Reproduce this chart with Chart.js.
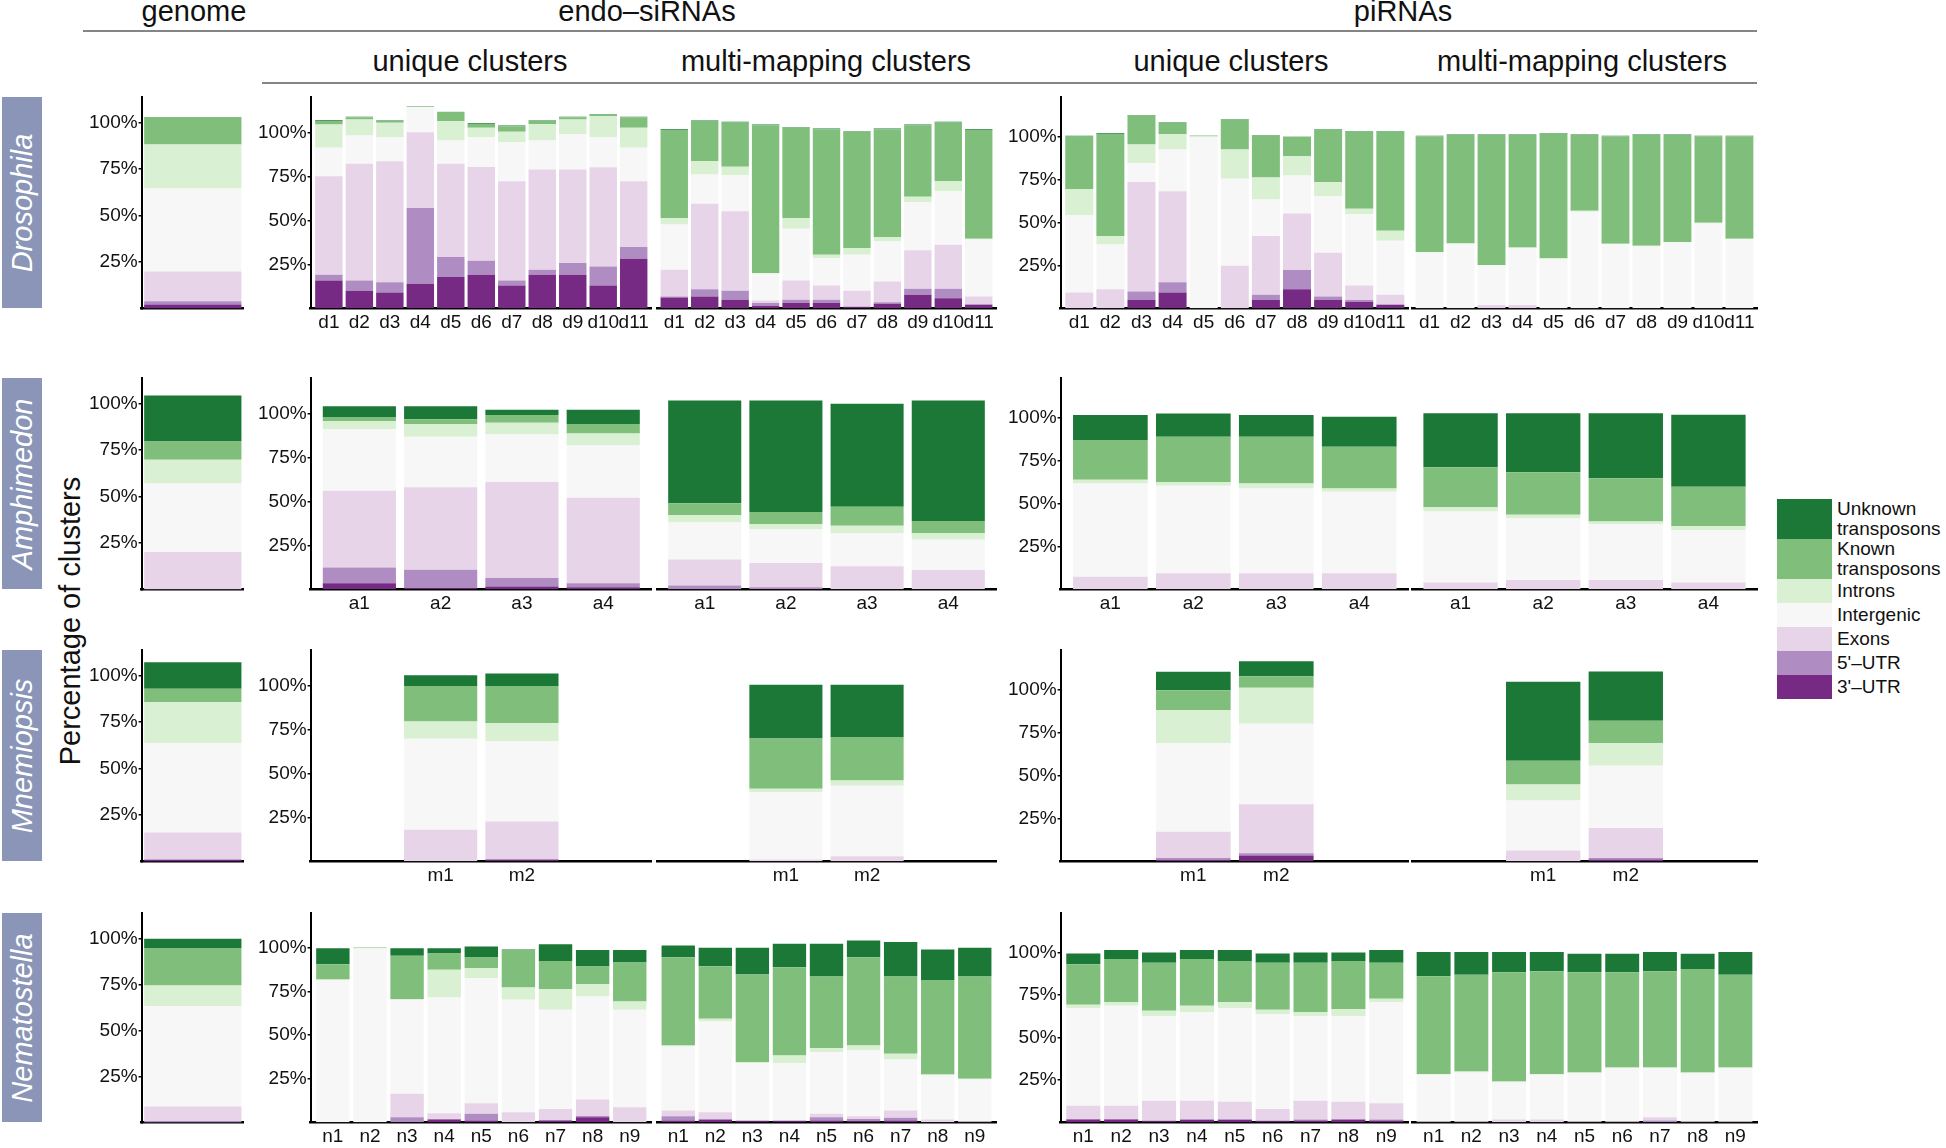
<!DOCTYPE html>
<html><head><meta charset="utf-8">
<script src="https://cdn.jsdelivr.net/npm/chart.js@4.4.0/dist/chart.umd.min.js"></script>
<style>
html,body{margin:0;padding:0;background:#fff;}
body{width:1946px;height:1148px;position:relative;overflow:hidden;font-family:'Liberation Sans',Arial,Helvetica,sans-serif;color:#111;}
canvas{position:absolute;}
.t{position:absolute;white-space:nowrap;transform:translateX(-50%);font-size:29px;line-height:29px;color:#111;}
.hr{position:absolute;height:2px;background:#858585;}
.sp{position:absolute;background:#8a95b8;}
.sp span{position:absolute;left:50%;top:50%;transform:translate(-50%,-50%) rotate(-90deg);color:#fff;font-style:italic;font-size:29px;white-space:nowrap;}
#ytitle{position:absolute;left:70px;top:621px;transform:translate(-50%,-50%) rotate(-90deg);font-size:29px;white-space:nowrap;}
#legend{position:absolute;left:1777px;top:499px;}
.li{display:flex;align-items:stretch;min-height:24px;}
.lb{width:55px;flex:none;}
.lt{width:112px;padding-left:5px;font-size:19px;line-height:20px;display:flex;align-items:center;}
</style></head><body>
<div class="t" style="left:194px;top:-3px">genome</div>
<div class="t" style="left:647px;top:-3px">endo–siRNAs</div>
<div class="t" style="left:1403px;top:-3px">piRNAs</div>
<div class="hr" style="left:83px;top:30px;width:1674px"></div>
<div class="t" style="left:470px;top:47px">unique clusters</div>
<div class="t" style="left:826px;top:47px">multi-mapping clusters</div>
<div class="t" style="left:1231px;top:47px">unique clusters</div>
<div class="t" style="left:1582px;top:47px">multi-mapping clusters</div>
<div class="hr" style="left:262px;top:82px;width:1495px"></div>
<div id="ytitle">Percentage of clusters</div>
<div id="legend"></div>
<script>
// ---------------- data ----------------
const seriesNames = ["3'–UTR", "5'–UTR", "Exons", "Intergenic", "Introns", "Known transposons", "Unknown transposons"];
const seriesColors = ["#762a83", "#af8dc3", "#e7d4e8", "#f7f7f7", "#d9f0d3", "#7fbf7b", "#1b7837"];
const yTickValues = [25, 50, 75, 100];
const species = ["Drosophila", "Amphimedon", "Mnemiopsis", "Nematostella"];

const droCats = ["d1","d2","d3","d4","d5","d6","d7","d8","d9","d10","d11"];
const amphCats = ["a1","a2","a3","a4"];
const mnemCats = ["m1","m2"];
const nemaCats = ["n1","n2","n3","n4","n5","n6","n7","n8","n9"];

// each inner array = one bar, segments bottom→top in seriesNames order (% of clusters)
const droGenome = [[2.2, 1.7, 16.1, 44.5, 23.7, 14.7, 0]];
const droEndoUnique = [
 [15.8, 3.2, 56.1, 16.2, 13.3, 1.9, 0.5],
 [9.9, 5.9, 66.5, 16.0, 9.1, 1.3, 0.3],
 [8.9, 5.9, 68.9, 13.6, 8.2, 1.0, 0.3],
 [13.9, 43.1, 43.2, 14.4, 0, 0.4, 0],
 [17.7, 11.4, 53.2, 13.1, 11.1, 5.3, 0],
 [19.0, 8.0, 53.4, 16.9, 5.4, 2.2, 0.4],
 [12.9, 2.9, 56.4, 22.3, 5.9, 3.2, 0.4],
 [19.0, 2.9, 57.0, 16.5, 9.5, 1.6, 0.3],
 [19.0, 6.7, 53.2, 20.3, 8.2, 1.3, 0.3],
 [12.9, 10.9, 56.4, 17.1, 12.0, 1.0, 0.3],
 [28.1, 6.7, 37.4, 19.1, 11.4, 6.0, 0.3]];
const droEndoMulti = [
 [6.1, 0.6, 15.2, 25.6, 3.8, 50.0, 0.4],
 [6.7, 4.1, 48.5, 16.7, 7.7, 22.8, 0.3],
 [4.8, 5.1, 45.2, 20.4, 4.9, 25.1, 0.4],
 [1.3, 1.6, 1.5, 15.2, 0.4, 84.0, 0.4],
 [2.9, 1.9, 11.0, 29.3, 6.2, 51.4, 0.3],
 [2.9, 1.9, 8.1, 15.6, 1.9, 71.3, 0.4],
 [0.6, 0.4, 8.9, 20.5, 3.8, 66.0, 0.4],
 [2.5, 0.9, 11.8, 22.8, 2.3, 61.4, 0.4],
 [7.6, 3.4, 21.9, 27.4, 3.0, 40.7, 0.4],
 [5.7, 5.3, 25.1, 30.4, 5.7, 33.3, 0.4],
 [1.9, 0.4, 4.4, 32.3, 0.4, 61.9, 0.4]];
const droPiUnique = [
 [0, 0, 9.1, 45.2, 15.1, 30.8, 0.4],
 [0, 0, 11.0, 26.2, 5.0, 59.5, 0.4],
 [4.8, 4.9, 63.9, 11.1, 10.8, 16.9, 0.3],
 [9.1, 6.0, 53.1, 24.4, 9.1, 6.4, 0.3],
 [0, 0, 0, 100.2, 0, 0.6, 0],
 [0, 0, 24.8, 50.8, 17.0, 17.3, 0.3],
 [4.8, 3.0, 34.4, 21.2, 12.8, 24.6, 0.3],
 [11.0, 11.3, 32.9, 22.3, 11.1, 11.6, 0],
 [4.8, 2.0, 25.6, 32.9, 8.3, 30.7, 0.3],
 [3.7, 1.1, 8.4, 41.6, 3.3, 45.0, 0.3],
 [1.9, 0.4, 5.5, 31.5, 5.9, 57.9, 0.3]];
const droPiMulti = [
 [0, 0, 0, 32.4, 0.4, 67.4, 0.3],
 [0, 0, 0, 37.4, 0.4, 63.0, 0.3],
 [0, 0, 1.9, 22.9, 0.4, 75.6, 0.3],
 [0, 0, 1.9, 33.0, 0.4, 65.5, 0.3],
 [0, 0, 0, 28.7, 0.4, 72.6, 0.3],
 [0, 0, 0, 56.2, 0.6, 44.0, 0.3],
 [0, 0, 0, 37.2, 0.4, 62.6, 0.3],
 [0, 0, 0, 35.9, 0.5, 64.4, 0.3],
 [0, 0, 0, 38.2, 0.4, 62.2, 0.3],
 [0, 0, 0, 49.4, 0.4, 50.4, 0.3],
 [0, 0, 0, 40.1, 0.4, 59.7, 0.3]];

const amphGenome = [[0, 0.3, 19.9, 36.8, 12.8, 9.8, 24.7]];
const amphEndoUnique = [
 [3.4, 9.0, 43.7, 34.9, 4.7, 2.0, 6.4],
 [0.6, 10.5, 46.9, 28.8, 7.2, 2.8, 7.3],
 [1.5, 4.9, 54.6, 27.1, 6.6, 4.4, 3.0],
 [1.1, 2.3, 48.6, 30.1, 6.6, 5.3, 8.1]];
const amphEndoMulti = [
 [0, 2.1, 14.8, 21.0, 4.3, 6.6, 58.4],
 [0, 1.1, 13.8, 19.2, 2.8, 7.0, 63.3],
 [0, 0, 13.0, 18.8, 4.2, 10.9, 58.4],
 [0, 0, 10.9, 17.2, 3.7, 7.0, 68.4]];
const amphPiUnique = [
 [0, 0, 7.2, 54.5, 2.1, 23.2, 14.6],
 [0, 0, 9.3, 51.0, 2.3, 26.3, 13.6],
 [0, 0, 9.3, 49.5, 2.9, 27.2, 12.7],
 [0, 0, 9.3, 47.5, 2.0, 24.3, 17.5]];
const amphPiMulti = [
 [0, 0, 3.9, 41.4, 2.4, 23.3, 31.5],
 [0, 0, 5.3, 35.9, 2.2, 24.7, 34.4],
 [0, 0, 5.3, 32.6, 1.6, 25.1, 37.9],
 [0, 0, 3.9, 30.5, 2.2, 23.1, 41.9]];

const mnemGenome = [[0.9, 0.4, 14.4, 48.1, 21.9, 7.2, 14.2]];
const mnemEndoUnique = [[0, 0, 17.9, 51.8, 9.8, 20.3, 6.0], [0.6, 0.7, 21.3, 45.8, 10.1, 21.3, 7.0]];
const mnemEndoMulti = [[0, 0, 0.9, 38.3, 1.9, 28.6, 30.5], [0, 0, 2.8, 40.1, 2.9, 24.8, 29.6]];
const mnemPiUnique = [[0.8, 1.1, 15.3, 51.6, 19.4, 11.6, 10.7], [3.3, 1.4, 28.6, 46.9, 21.0, 6.7, 8.8]];
const mnemPiMulti = [[0, 0, 6.2, 29.1, 9.3, 13.9, 46.0], [1.0, 0.9, 17.5, 36.2, 13.2, 13.0, 28.7]];

const nemaGenome = [[0, 0.9, 7.8, 54.5, 11.2, 20.0, 5.4]];
const nemaEndoUnique = [
 [0, 0, 0, 81.6, 0.4, 8.8, 9.2],
 [0, 0, 0, 100, 0, 0.4, 0],
 [0, 2.9, 13.4, 54.1, 0.3, 24.9, 4.4],
 [1.5, 0.4, 3.3, 66.5, 15.9, 9.3, 3.1],
 [1.0, 3.8, 6.1, 71.9, 5.7, 6.1, 6.4],
 [0, 0, 5.7, 64.7, 7.0, 21.5, 0.3],
 [1.0, 0.3, 6.3, 57.0, 11.9, 16.2, 9.6],
 [2.9, 0.7, 9.4, 59.3, 7.0, 10.2, 9.4],
 [0, 0, 8.6, 56.0, 4.8, 22.4, 7.1]];
const nemaEndoMulti = [
 [1.0, 2.4, 3.3, 36.7, 0.6, 50.6, 6.7],
 [1.3, 0.6, 3.8, 52.0, 1.6, 30.2, 10.5],
 [0.6, 0.4, 0, 33.0, 0.4, 50.3, 15.3],
 [0.6, 0.4, 0, 33.0, 4.2, 50.7, 13.4],
 [1.0, 1.9, 1.9, 35.4, 2.2, 41.2, 18.7],
 [0.6, 1.3, 1.5, 37.7, 2.9, 50.6, 9.6],
 [1.0, 1.5, 4.2, 29.2, 3.3, 44.4, 19.7],
 [0, 0, 1.5, 25.3, 0.5, 54.3, 17.4],
 [0, 0, 0.6, 23.9, 0.4, 58.7, 16.4]];
const nemaPiUnique = [
 [1.6, 0.3, 7.8, 57.6, 1.9, 23.8, 6.4],
 [1.6, 0.3, 7.8, 58.9, 2.0, 25.5, 5.3],
 [0.6, 0.4, 11.7, 49.7, 3.3, 28.3, 6.0],
 [1.4, 0.4, 10.9, 52.0, 3.9, 27.5, 5.3],
 [1.4, 0.4, 10.3, 55.2, 3.3, 24.3, 6.5],
 [0.6, 0.4, 6.8, 55.9, 2.6, 27.7, 5.4],
 [1.0, 0.6, 11.1, 49.7, 2.3, 29.3, 6.0],
 [1.6, 0, 10.5, 50.3, 4.3, 28.2, 5.1],
 [1.0, 0.6, 9.5, 59.5, 2.1, 21.3, 7.4]];
const nemaPiMulti = [
 [0, 0, 0.6, 27.3, 0.4, 57.5, 14.2],
 [0, 0, 0.6, 28.6, 0.6, 56.9, 13.3],
 [0, 0, 1.6, 21.8, 0.6, 64.1, 11.9],
 [0, 0, 1.6, 26.3, 0.4, 60.4, 11.3],
 [0, 0, 0.6, 28.1, 0.5, 58.9, 10.9],
 [0, 0, 0.6, 31.2, 0.4, 55.9, 10.9],
 [0, 1.0, 1.9, 28.9, 0.4, 56.5, 11.3],
 [0, 0, 0.6, 28.1, 0.5, 60.9, 8.9],
 [0, 0, 0.6, 31.2, 0.4, 54.5, 13.3]];

// ---------------- layout ----------------
const rowTops = [97, 378, 650, 913];
const rowBottoms = [308, 589, 861, 1122];
const colLefts = [142, 311, 656, 1061, 1411];
const colRights = [244, 652, 997, 1409, 1758];
const colYMax = [113.5, 120, 120, 123, 123];
const colShowY = [true, true, false, true, false];

const rows = [
  {cats: droCats, slots: 11, panels: [droGenome, droEndoUnique, droEndoMulti, droPiUnique, droPiMulti]},
  {cats: amphCats, slots: 4, panels: [amphGenome, amphEndoUnique, amphEndoMulti, amphPiUnique, amphPiMulti]},
  {cats: mnemCats, slots: 4, panels: [mnemGenome, mnemEndoUnique, mnemEndoMulti, mnemPiUnique, mnemPiMulti]},
  {cats: nemaCats, slots: 9, panels: [nemaGenome, nemaEndoUnique, nemaEndoMulti, nemaPiUnique, nemaPiMulti]}
];

Chart.defaults.font.family = "'Liberation Sans', Arial, Helvetica, sans-serif";
Chart.defaults.color = '#111';

function buildPanel(box, bars, cats, slots, yMax, showY, genome) {
  const shift = (slots - bars.length) / 2;
  const pos = bars.map((_, i) => i + 1 + shift);
  const datasets = seriesNames.map((name, s) => ({
    label: name,
    data: genome ? [bars[0][s]] : bars.map((b, i) => ({x: pos[i], y: b[s]})),
    backgroundColor: seriesColors[s],
    borderWidth: 0,
    categoryPercentage: 1,
    barPercentage: genome ? 0.95 : 0.9
  }));
  const border = {display: true, color: '#000', width: 2.5};
  const xScale = genome ? {
    type: 'category', offset: true, stacked: true,
    grid: {display: false, drawTicks: false}, ticks: {display: false}, border
  } : {
    type: 'linear', min: 0.4, max: slots + 0.6, offset: false, stacked: true,
    grid: {display: false, drawTicks: false}, border,
    afterBuildTicks: sc => { sc.ticks = pos.map(v => ({value: v})); },
    ticks: {autoSkip: false, maxRotation: 0, minRotation: 0, padding: 3, font: {size: 19}, color: '#111',
            callback: (v, i) => cats[i]}
  };
  const yScale = {
    type: 'linear', min: 0, max: yMax, stacked: true, display: showY,
    afterBuildTicks: sc => { sc.ticks = yTickValues.map(v => ({value: v})); },
    ticks: {font: {size: 19}, color: '#111', padding: 1, callback: v => v + '%'},
    grid: {display: true, drawOnChartArea: false, drawTicks: true, tickLength: 3, color: '#000', lineWidth: 1.5},
    border: {display: true, color: '#000', width: 2}
  };
  const cv = document.createElement('canvas');
  cv.width = (box.r - box.l) + 80;
  cv.height = (box.b - box.t) + 50;
  document.body.appendChild(cv);
  const chart = new Chart(cv, {
    type: 'bar',
    data: {labels: genome ? [''] : undefined, datasets},
    options: {
      responsive: false, maintainAspectRatio: false, animation: false,
      layout: {padding: 0},
      plugins: {legend: {display: false}, tooltip: {enabled: false}, title: {display: false}},
      scales: {x: xScale, y: yScale}
    }
  });
  for (let k = 0; k < 3; k++) {
    const a = chart.chartArea;
    const w = Math.round(chart.width + (box.r - box.l) - (a.right - a.left));
    const h = Math.round(chart.height + (box.b - box.t) - (a.bottom - a.top));
    if (w !== chart.width || h !== chart.height) { chart.resize(w, h); chart.update('none'); }
  }
  const a = chart.chartArea;
  cv.style.left = (box.l - a.left) + 'px';
  cv.style.top = (box.t - a.top) + 'px';
}

rows.forEach((row, ri) => {
  row.panels.forEach((bars, ci) => {
    buildPanel({l: colLefts[ci], r: colRights[ci], t: rowTops[ri], b: rowBottoms[ri]},
      bars, row.cats, row.slots, colYMax[ci], colShowY[ci], ci === 0);
  });
  const sp = document.createElement('div');
  sp.className = 'sp';
  sp.style.left = '2px'; sp.style.width = '40px';
  sp.style.top = rowTops[ri] + 'px'; sp.style.height = (rowBottoms[ri] - rowTops[ri]) + 'px';
  const s = document.createElement('span'); s.textContent = species[ri];
  sp.appendChild(s); document.body.appendChild(sp);
});

// legend (top = last series)
const lg = document.getElementById('legend');
for (let s = seriesNames.length - 1; s >= 0; s--) {
  const it = document.createElement('div'); it.className = 'li';
  const b = document.createElement('div'); b.className = 'lb'; b.style.background = seriesColors[s];
  const t = document.createElement('div'); t.className = 'lt'; t.textContent = seriesNames[s];
  it.appendChild(b); it.appendChild(t); lg.appendChild(it);
}
</script>
</body></html>
